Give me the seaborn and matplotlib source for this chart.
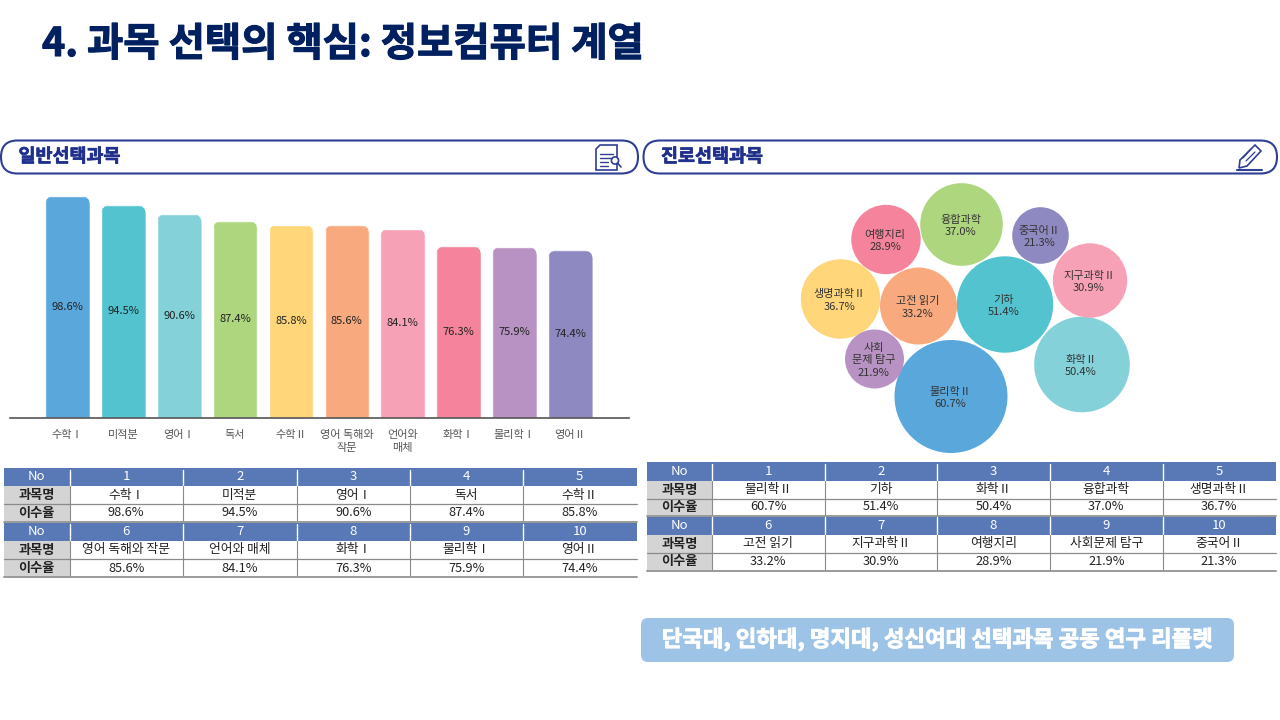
import matplotlib
matplotlib.use("Agg")
import matplotlib.pyplot as plt
import matplotlib.patheffects as pe
from matplotlib.patches import FancyBboxPatch, Rectangle, Polygon, Circle
import pandas as pd
import seaborn as sns

# values
general_subjects = ["수학Ⅰ", "미적분", "영어Ⅰ", "독서", "수학Ⅱ", "영어 독해와 작문", "언어와 매체", "화학Ⅰ", "물리학Ⅰ", "영어Ⅱ"]
general_axis_labels = ["수학Ⅰ", "미적분", "영어Ⅰ", "독서", "수학Ⅱ", "영어 독해와\n작문", "언어와\n매체", "화학Ⅰ", "물리학Ⅰ", "영어Ⅱ"]
general_rates = [98.6, 94.5, 90.6, 87.4, 85.8, 85.6, 84.1, 76.3, 75.9, 74.4]

career_subjects = ["물리학Ⅱ", "기하", "화학Ⅱ", "융합과학", "생명과학Ⅱ", "고전 읽기", "지구과학Ⅱ", "여행지리", "사회문제 탐구", "중국어Ⅱ"]
career_bubble_labels = ["물리학Ⅱ", "기하", "화학Ⅱ", "융합과학", "생명과학Ⅱ", "고전 읽기", "지구과학Ⅱ", "여행지리", "사회\n문제 탐구", "중국어Ⅱ"]
career_rates = [60.7, 51.4, 50.4, 37.0, 36.7, 33.2, 30.9, 28.9, 21.9, 21.3]

palette = ["#5AA7DC", "#52C3CF", "#84D1D9", "#AED67F", "#FFD679",
           "#F8A97E", "#F7A1B6", "#F5839B", "#B792C2", "#8F89C1"]

# bubble layout in slide pixels (hand packed in the original, not a data scale)
bubble_x = [951, 1005, 1082, 961.5, 840.5, 918.5, 1090, 886, 874.5, 1040.5]
bubble_y = [396.5, 304.5, 364.5, 224.5, 299, 306, 280.5, 239.5, 359, 235.5]
bubble_r = [56.5, 48.2, 47.8, 41.3, 39.7, 38.5, 37.2, 34.7, 29.5, 28.3]

NAVY = "#002060"
PILL = "#2E3F94"
HEADER = "#5878B6"

sns.set_theme(style="white")
plt.rcParams["font.family"] = ["Noto Sans CJK KR", "DejaVu Sans"]

fig = plt.figure(figsize=(12.8, 7.2), dpi=100, facecolor="white")

# full slide axes in pixel coordinates, for everything except the bars
page = fig.add_axes([0, 0, 1, 1], zorder=1)
page.set_axis_off()


def draw_pill(x0, x1, text):
    page.add_patch(FancyBboxPatch((x0, 140.5), x1 - x0, 33, boxstyle="round,pad=0,rounding_size=16.5",
                                  fc="white", ec=PILL, lw=1.5))
    page.text(x0 + 17.5, 156.5, text, fontsize=13.3, fontweight="bold", color="#1F2F8C", ha="left", va="center",
              path_effects=[pe.withStroke(linewidth=0.5, foreground="#1F2F8C")])


def draw_table(xs, ys, names, rates):
    for block in range(2):
        top = block * 3
        # header row
        page.add_patch(Rectangle((xs[0], ys[top]), xs[-1] - xs[0], ys[top + 1] - ys[top], fc=HEADER, ec="none"))
        page.text((xs[0] + xs[1]) / 2, (ys[top] + ys[top + 1]) / 2, "No", color="white", fontsize=9.5,
                  ha="center", va="center")
        # grey first column
        page.add_patch(Rectangle((xs[0], ys[top + 1]), xs[1] - xs[0], ys[top + 3] - ys[top + 1], fc="#D4D4D4", ec="none"))
        page.text((xs[0] + xs[1]) / 2, (ys[top + 1] + ys[top + 2]) / 2, "과목명", fontsize=9.5, fontweight="bold",
                  color="#222222", ha="center", va="center")
        page.text((xs[0] + xs[1]) / 2, (ys[top + 2] + ys[top + 3]) / 2, "이수율", fontsize=9.5, fontweight="bold",
                  color="#222222", ha="center", va="center")
        for c in range(5):
            i = block * 5 + c
            cx = (xs[c + 1] + xs[c + 2]) / 2
            page.text(cx, (ys[top] + ys[top + 1]) / 2, str(i + 1), color="white", fontsize=9.5, ha="center", va="center")
            page.text(cx, (ys[top + 1] + ys[top + 2]) / 2, names[i], fontsize=9.2, color="#222222", ha="center", va="center")
            page.text(cx, (ys[top + 2] + ys[top + 3]) / 2, f"{rates[i]:.1f}%", fontsize=9.2, color="#222222",
                      ha="center", va="center")
            # column dividers
            page.plot([xs[c + 1]] * 2, [ys[top] + 1.5, ys[top + 1] - 1.5], color="white", lw=1)
            page.plot([xs[c + 1]] * 2, [ys[top + 1], ys[top + 3]], color="#8A8A8A", lw=0.8)
        page.plot([xs[0], xs[-1]], [ys[top + 2]] * 2, color="#8A8A8A", lw=0.9)
        page.plot([xs[0], xs[-1]], [ys[top + 3]] * 2, color="#9A9A9A", lw=1.4)


# title and footer box
page.text(42, 44.5, "4. 과목 선택의 핵심: 정보컴퓨터 계열", fontsize=28.4, fontweight="bold", color=NAVY, ha="left", va="center",
          path_effects=[pe.withStroke(linewidth=0.8, foreground=NAVY)])
page.add_patch(FancyBboxPatch((641, 618), 593, 44, boxstyle="round,pad=0,rounding_size=7", fc="#9DC3E6", ec="#9DC3E6", lw=0))
page.text(938, 639.5, "단국대, 인하대, 명지대, 성신여대 선택과목 공동 연구 리플렛", fontsize=16.1, fontweight="bold", color="white",
          ha="center", va="center", path_effects=[pe.withStroke(linewidth=0.6, foreground="white")])

draw_pill(1, 638, "일반선택과목")
draw_pill(643.5, 1277, "진로선택과목")

# document icon
page.add_patch(Polygon([(600, 145), (617, 145), (617, 170), (596, 170), (596, 149)], fc="white", ec=PILL, lw=1.2))
for yy, xe in [(154, 613), (158, 612), (162, 608), (166, 608)]:
    page.plot([600, xe], [yy, yy], color=PILL, lw=1)
page.add_patch(Circle((615, 160.5), 3.6, fc="white", ec=PILL, lw=1.2))
page.plot([617.5, 621], [163, 167], color=PILL, lw=1.2)

# pencil icon
page.add_patch(Polygon([(1255, 145), (1261, 151), (1247, 166), (1239, 168), (1240, 160)], fc="white", ec=PILL, lw=1.2))
page.plot([1243, 1251], [158, 149], color=PILL, lw=0.9)
page.plot([1246, 1255], [161, 152], color=PILL, lw=0.9)
page.plot([1237, 1262], [170, 170], color=PILL, lw=1.5)

# bubbles
bubble_df = pd.DataFrame({"subject": career_subjects, "x": bubble_x, "y": bubble_y})
sns.scatterplot(data=bubble_df, x="x", y="y", hue="subject", palette=palette, legend=False, ax=page,
                s=[(2 * r * 0.72) ** 2 for r in bubble_r], linewidth=0, alpha=1, zorder=2)
for label, rate, x, y in zip(career_bubble_labels, career_rates, bubble_x, bubble_y):
    page.text(x - 1, y + 1.5, f"{label}\n{rate:.1f}%", fontsize=8, color="#333333", ha="center", va="center",
              linespacing=1.3, zorder=3)

draw_table([4, 69.5, 183, 296.5, 410, 523, 636.5], [468, 486, 504, 522, 541, 559, 577], general_subjects, general_rates)
draw_table([647, 712, 824.5, 937, 1050, 1162.5, 1275.5], [462, 481, 498.5, 515.5, 535, 552.5, 570.5], career_subjects, career_rates)

page.set_xlim(0, 1280)
page.set_ylim(720, 0)
page.set_xlabel("")
page.set_ylabel("")

# bar chart on its own axes: 10-629 px wide, baseline at y=417.5 px
ax = fig.add_axes([10 / 1280, 1 - 417.5 / 720, 619 / 1280, 224.5 / 720], zorder=2)
ax.patch.set_alpha(0)
bar_df = pd.DataFrame({"subject": general_axis_labels, "rate": general_rates})
sns.barplot(data=bar_df, x="subject", y="rate", hue="subject", palette=palette, legend=False, width=0.8,
            saturation=1, ax=ax)
ax.set_xlim(-1.03, 10.05)
ax.set_ylim(0, 100)
ax.set_xlabel("")
ax.set_ylabel("")
ax.set_yticks([])
sns.despine(ax=ax, left=True)
ax.spines["bottom"].set_color("#555555")
ax.spines["bottom"].set_linewidth(1.2)
ax.tick_params(axis="x", length=0, pad=9, labelsize=8, labelcolor="#555555")
for tick_label in ax.get_xticklabels():
    tick_label.set_linespacing(1.35)

# round the top corners of each bar: clip against a rounded box in slide pixels
for container in ax.containers:
    for bar in container:
        (px0, py0) = page.transData.inverted().transform(ax.transData.transform((bar.get_x(), bar.get_height())))
        (px1, py1) = page.transData.inverted().transform(ax.transData.transform((bar.get_x() + bar.get_width(), 0)))
        clip = FancyBboxPatch((px0, py0), px1 - px0, py1 - py0 + 20, boxstyle="round,pad=0,rounding_size=9",
                              transform=page.transData, fc="none", ec="none")
        bar.set_clip_path(clip)
    ax.bar_label(container, fmt="%.1f%%", label_type="center", fontsize=8, color="#222222")

fig.savefig("out.png", dpi=100)
